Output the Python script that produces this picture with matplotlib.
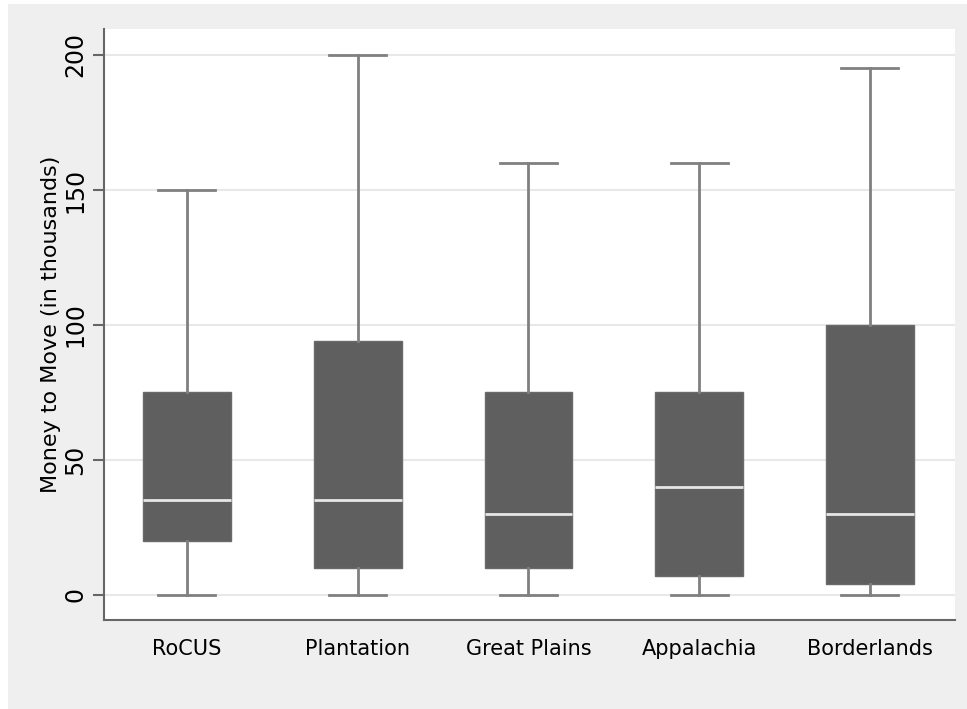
import matplotlib.pyplot as plt
from matplotlib.patches import Rectangle

# box statistics (thousands)
regions = ['RoCUS', 'Plantation', 'Great Plains', 'Appalachia', 'Borderlands']
whisk_lo = [0, 0, 0, 0, 0]
q1 = [20, 10, 10, 7, 4]
median = [35, 35, 30, 40, 30]
q3 = [75, 94, 75, 75, 100]
whisk_hi = [150, 200, 160, 160, 195]
yticks = [0, 50, 100, 150, 200]

plt.rcParams['font.family'] = 'DejaVu Sans'

fig = plt.figure(figsize=(9.67, 7.09), dpi=100, facecolor='white')
# stata style grey backdrop
fig.patches.append(Rectangle((8 / 967, 0), 1 - 8 / 967, 1 - 4 / 709,
                             transform=fig.transFigure, facecolor='#efefef',
                             edgecolor='none', zorder=-10))
ax = fig.add_axes([104 / 967, 1 - 620 / 709, (955 - 104) / 967, (620 - 29) / 709])
ax.set_facecolor('white')

stats = []
for i in range(len(regions)):
    stats.append({'label': regions[i], 'whislo': whisk_lo[i], 'q1': q1[i],
                  'med': median[i], 'q3': q3[i], 'whishi': whisk_hi[i], 'fliers': []})

ax.bxp(stats, positions=range(len(regions)), widths=0.515, patch_artist=True,
       showfliers=False,
       boxprops=dict(facecolor='#5f5f5f', edgecolor='#6a6a6a', linewidth=1),
       medianprops=dict(color='#e6e6e6', linewidth=2),
       whiskerprops=dict(color='#808080', linewidth=2),
       capprops=dict(color='#808080', linewidth=2),
       capwidths=0.334, zorder=3)

ax.set_xlim(-0.486, 4.498)
ax.set_ylim(-9.26, 209.6)
ax.set_yticks(yticks)
ax.set_yticklabels([str(t) for t in yticks], rotation=90, va='center', fontsize=17)
ax.tick_params(axis='y', length=8, width=1.5, color='#666666', pad=4)
ax.tick_params(axis='x', length=0, pad=14, labelsize=15)
ax.grid(axis='y', color='#e8e8e8', linewidth=1.5, zorder=0)
ax.set_axisbelow(True)

for s in ['top', 'right']:
    ax.spines[s].set_visible(False)
for s in ['left', 'bottom']:
    ax.spines[s].set_color('#666666')
    ax.spines[s].set_linewidth(1.5)

ax.set_ylabel('Money to Move (in thousands)', fontsize=16, labelpad=2)

fig.savefig('out.png', dpi=100)
